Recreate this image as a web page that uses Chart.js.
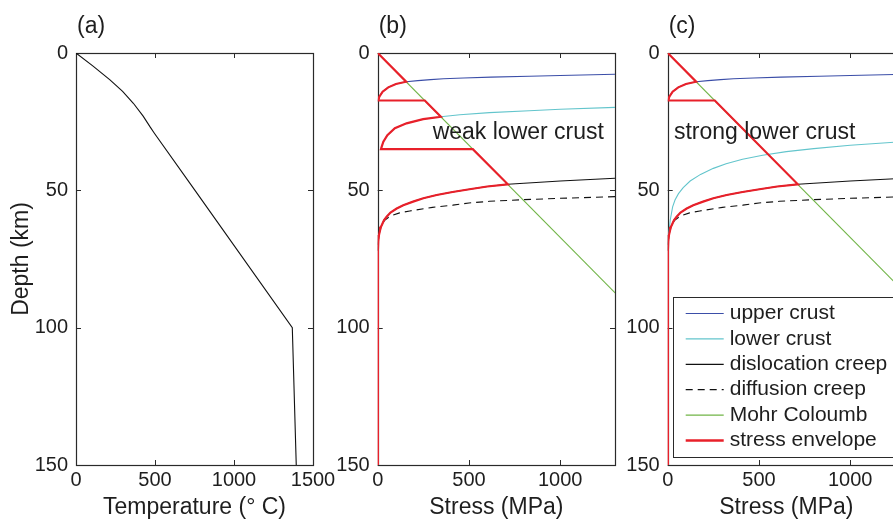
<!DOCTYPE html>
<html>
<head>
<meta charset="utf-8">
<script src="https://cdn.jsdelivr.net/npm/chart.js@4.4.0/dist/chart.umd.min.js"></script>
<style>
  html, body { margin: 0; padding: 0; background: #fff; overflow: hidden; }
  #wrap { position: relative; width: 893px; height: 521px; overflow: hidden; background: #fff; }
  #wrap canvas { position: absolute; left: 0; top: 0; }
</style>
</head>
<body>
<div id="wrap">
  <canvas id="panelA" width="950" height="521"></canvas>
  <canvas id="panelB" width="950" height="521"></canvas>
  <canvas id="panelC" width="950" height="521"></canvas>
</div>
<script>
// ---- tick labels ----
const DEPTH_TICKS  = [0, 50, 100, 150];
const TEMP_TICKS   = [0, 500, 1000, 1500];
const STRESS_TICKS = [0, 500, 1000];

// ---- (a) geotherm: temperature (deg C) vs depth (km) ----
const geothermT = [0, 108, 215, 295, 363, 425, 470, 496, 753, 1369, 1394];
const geothermZ = [0, 4.8, 9.8, 14, 18.3, 23, 27, 29.2, 50, 100, 150];

// ---- creep and friction laws: stress (MPa) vs depth (km) ----
const upperCrustS = [1300, 1000, 830, 620, 470, 360, 290, 220, 156, 100, 58, 27, 9, 3];
const upperCrustZ = [7.75, 8.2, 8.45, 8.8, 9.1, 9.4, 9.7, 10.05, 10.45, 11.3, 12.5, 14.1, 15.9, 17.3];

const weakLowerS = [1300, 1000, 830, 612, 450, 346, 249, 158, 94, 53, 31, 22, 18];
const weakLowerZ = [19.8, 20.5, 21.0, 21.7, 22.5, 23.2, 24.1, 25.6, 27.4, 29.9, 32.3, 34.1, 35.0];

const strongLowerS = [1300, 1000, 800, 650, 520, 410, 320, 250, 180, 123, 85, 59, 40, 27, 14, 6, 2];
const strongLowerZ = [32.2, 33.6, 34.8, 35.9, 37.2, 38.7, 40.3, 42.0, 44.2, 46.6, 49.0, 51.2, 53.5, 56.0, 60.8, 65.7, 70];

const dislocationS = [1300, 1000, 713, 600, 503, 410, 323, 250, 194, 140, 104, 70, 49, 35, 27, 18, 13, 7, 3, 1];
const dislocationZ = [45.6, 46.6, 47.8, 48.6, 49.6, 50.6, 51.7, 52.9, 54.1, 55.4, 56.6, 58.1, 59.6, 60.8, 62.0, 63.3, 64.5, 66.3, 68.5, 72];

const diffusionS = [1300, 1000, 794, 612, 500, 412, 300, 176, 120, 85, 60, 40, 25, 14, 6, 2];
const diffusionZ = [52.3, 52.9, 53.4, 54.0, 54.6, 55.4, 56.2, 57.5, 58.2, 59.0, 59.8, 60.8, 62.0, 63.5, 66.0, 70];

const mohrS = [0, 1400];
const mohrZ = [0, 94];

// ---- strength envelopes ----
const envWeakS = [0, 156, 100, 58, 27, 9, 3, 258, 346, 249, 158, 94, 53, 31, 22, 18, 521,
                  713, 600, 503, 410, 323, 250, 194, 140, 104, 70, 49, 35, 27, 18, 13, 7, 3, 1, 1];
const envWeakZ = [0, 10.45, 11.3, 12.5, 14.1, 15.9, 17.3, 17.3, 23.2, 24.1, 25.6, 27.4, 29.9, 32.3, 34.1, 35.0, 35.0,
                  47.8, 48.6, 49.6, 50.6, 51.7, 52.9, 54.1, 55.4, 56.6, 58.1, 59.6, 60.8, 62.0, 63.3, 64.5, 66.3, 68.5, 72, 150];

const envStrongS = [0, 156, 100, 58, 27, 9, 3, 258,
                    713, 600, 503, 410, 323, 250, 194, 140, 104, 70, 49, 35, 27, 18, 13, 7, 3, 1, 1];
const envStrongZ = [0, 10.45, 11.3, 12.5, 14.1, 15.9, 17.3, 17.3,
                    47.8, 48.6, 49.6, 50.6, 51.7, 52.9, 54.1, 55.4, 56.6, 58.1, 59.6, 60.8, 62.0, 63.3, 64.5, 66.3, 68.5, 72, 150];

// ---- styling ----
const FONT = "'Liberation Sans', Arial, Helvetica, sans-serif";
const TEXT = '#1e1e1e';
const COLORS = {
  upper: '#3b4ea8',
  lower: '#63c5cc',
  disl: '#111111',
  diff: '#111111',
  mohr: '#70b446',
  env: '#e8202a'
};
const LEGEND_ITEMS = [
  { text: 'upper crust',       color: COLORS.upper, width: 1.2 },
  { text: 'lower crust',       color: COLORS.lower, width: 1.2 },
  { text: 'dislocation creep', color: COLORS.disl,  width: 1.2 },
  { text: 'diffusion creep',   color: COLORS.diff,  width: 1.2, dash: [7, 5] },
  { text: 'Mohr Coloumb',      color: COLORS.mohr,  width: 1.2 },
  { text: 'stress envelope',   color: COLORS.env,   width: 2.6 }
];

const pts = (xs, ys) => xs.map((x, i) => ({ x, y: ys[i] }));

function line(data, color, width, order, dash) {
  return {
    data, borderColor: color, backgroundColor: color, borderWidth: width,
    showLine: true, pointRadius: 0, pointHoverRadius: 0, tension: 0, fill: false,
    borderDash: dash || [], order
  };
}

// Box, inward tick marks, panel letter, annotation and legend.
const decorPlugin = {
  id: 'decor',
  beforeDatasetsDraw(chart, args, opts) {
    const { ctx, chartArea: a, scales: { x, y } } = chart;
    ctx.save();
    ctx.strokeStyle = '#2a2a2a';
    ctx.lineWidth = 1.2;
    ctx.strokeRect(Math.round(a.left) + 0.5, Math.round(a.top) + 0.5,
                   Math.round(a.right) - Math.round(a.left), Math.round(a.bottom) - Math.round(a.top));
    ctx.lineWidth = 1;
    const L = 5;
    ctx.beginPath();
    x.ticks.forEach(t => {
      const px = Math.round(x.getPixelForValue(t.value)) + 0.5;
      ctx.moveTo(px, a.bottom); ctx.lineTo(px, a.bottom - L);
      ctx.moveTo(px, a.top);    ctx.lineTo(px, a.top + L);
    });
    y.ticks.forEach(t => {
      const py = Math.round(y.getPixelForValue(t.value)) + 0.5;
      ctx.moveTo(a.left, py);  ctx.lineTo(a.left + L, py);
      ctx.moveTo(a.right, py); ctx.lineTo(a.right - L, py);
    });
    ctx.stroke();
    ctx.restore();
  },
  afterDraw(chart, args, opts) {
    const { ctx, chartArea: a, scales: { x, y } } = chart;
    ctx.save();
    ctx.fillStyle = TEXT;
    ctx.textBaseline = 'middle';
    ctx.textAlign = 'left';
    ctx.font = `23px ${FONT}`;
    ctx.fillText(opts.letter, a.left + 1, 27);
    if (opts.note) {
      ctx.font = `23px ${FONT}`;
      ctx.fillText(opts.note.text, x.getPixelForValue(opts.note.s), y.getPixelForValue(opts.note.z));
    }
    if (opts.legend) {
      const left = a.left + 5, top = 297, bottom = 457;
      ctx.fillStyle = '#fff';
      ctx.fillRect(left, top, a.right - 5 - left, bottom - top);
      ctx.strokeStyle = '#2a2a2a';
      ctx.lineWidth = 1;
      ctx.strokeRect(Math.round(left) + 0.5, top + 0.5, a.right - 5 - left, bottom - top);
      ctx.font = `21px ${FONT}`;
      LEGEND_ITEMS.forEach((it, i) => {
        const cy = top + 16.5 + 25.4 * i;
        ctx.beginPath();
        ctx.strokeStyle = it.color;
        ctx.lineWidth = it.width;
        ctx.setLineDash(it.dash || []);
        ctx.moveTo(left + 13, cy);
        ctx.lineTo(left + 51, cy);
        ctx.stroke();
        ctx.setLineDash([]);
        ctx.fillStyle = TEXT;
        ctx.fillText(it.text, left + 57, cy);
      });
    }
    ctx.restore();
  }
};

function scales(xTicks, xMax, xTitle, yTitle, yWidth) {
  return {
    x: {
      type: 'linear', min: 0, max: xMax,
      grid: { display: false, drawTicks: false }, border: { display: false },
      afterBuildTicks: s => { s.ticks = xTicks.map(v => ({ value: v })); },
      afterFit: s => { s.height = 56; },
      ticks: { font: { family: FONT, size: 20 }, color: TEXT, padding: 3, maxRotation: 0, minRotation: 0,
               autoSkip: false, callback: v => String(v) },
      title: { display: true, text: xTitle, font: { family: FONT, size: 23 }, color: TEXT,
               padding: { top: 0, bottom: 0 } }
    },
    y: {
      type: 'linear', min: 0, max: 150, reverse: true,
      grid: { display: false, drawTicks: false }, border: { display: false },
      afterBuildTicks: s => { s.ticks = DEPTH_TICKS.map(v => ({ value: v })); },
      afterFit: s => { s.width = yWidth; },
      ticks: { font: { family: FONT, size: 20 }, color: TEXT, padding: 8, autoSkip: false,
               callback: v => String(v) },
      title: { display: !!yTitle, text: yTitle || '', font: { family: FONT, size: 23 }, color: TEXT,
               padding: { top: 0, bottom: 0 } }
    }
  };
}

function baseOptions(padding, sc, decor) {
  return {
    responsive: false, animation: false, devicePixelRatio: 1,
    layout: { padding },
    scales: sc,
    plugins: { legend: { display: false }, tooltip: { enabled: false }, decor },
    events: []
  };
}

// (a) temperature profile
new Chart(document.getElementById('panelA'), {
  type: 'scatter',
  data: { datasets: [ line(pts(geothermT, geothermZ), '#111', 1.1, 0) ] },
  options: baseOptions({ left: 8, right: 637, top: 53, bottom: 0 },
    scales(TEMP_TICKS, 1500, 'Temperature (\u00B0 C)', 'Depth (km)', 68),
    { letter: '(a)' }),
  plugins: [decorPlugin]
});

// (b) weak lower crust
new Chart(document.getElementById('panelB'), {
  type: 'scatter',
  data: { datasets: [
    line(pts(envWeakS, envWeakZ), COLORS.env, 2.2, 0),
    line(pts(mohrS, mohrZ), COLORS.mohr, 1.1, 1),
    line(pts(upperCrustS, upperCrustZ), COLORS.upper, 1.1, 2),
    line(pts(weakLowerS, weakLowerZ), COLORS.lower, 1.1, 3),
    line(pts(dislocationS, dislocationZ), COLORS.disl, 1.1, 4),
    line(pts(diffusionS, diffusionZ), COLORS.diff, 1.1, 5, [7, 5])
  ] },
  options: baseOptions({ left: 317.7, right: 335, top: 53, bottom: 0 },
    scales(STRESS_TICKS, 1300, 'Stress (MPa)', null, 60),
    { letter: '(b)', note: { text: 'weak lower crust', s: 301, z: 29.1 } }),
  plugins: [decorPlugin]
});

// (c) strong lower crust
new Chart(document.getElementById('panelC'), {
  type: 'scatter',
  data: { datasets: [
    line(pts(envStrongS, envStrongZ), COLORS.env, 2.2, 0),
    line(pts(mohrS, mohrZ), COLORS.mohr, 1.1, 1),
    line(pts(upperCrustS, upperCrustZ), COLORS.upper, 1.1, 2),
    line(pts(strongLowerS, strongLowerZ), COLORS.lower, 1.1, 3),
    line(pts(dislocationS, dislocationZ), COLORS.disl, 1.1, 4),
    line(pts(diffusionS, diffusionZ), COLORS.diff, 1.1, 5, [7, 5])
  ] },
  options: baseOptions({ left: 607.7, right: 45, top: 53, bottom: 0 },
    scales(STRESS_TICKS, 1300, 'Stress (MPa)', null, 60),
    { letter: '(c)', note: { text: 'strong lower crust', s: 34, z: 29.1 }, legend: true }),
  plugins: [decorPlugin]
});
</script>
</body>
</html>
